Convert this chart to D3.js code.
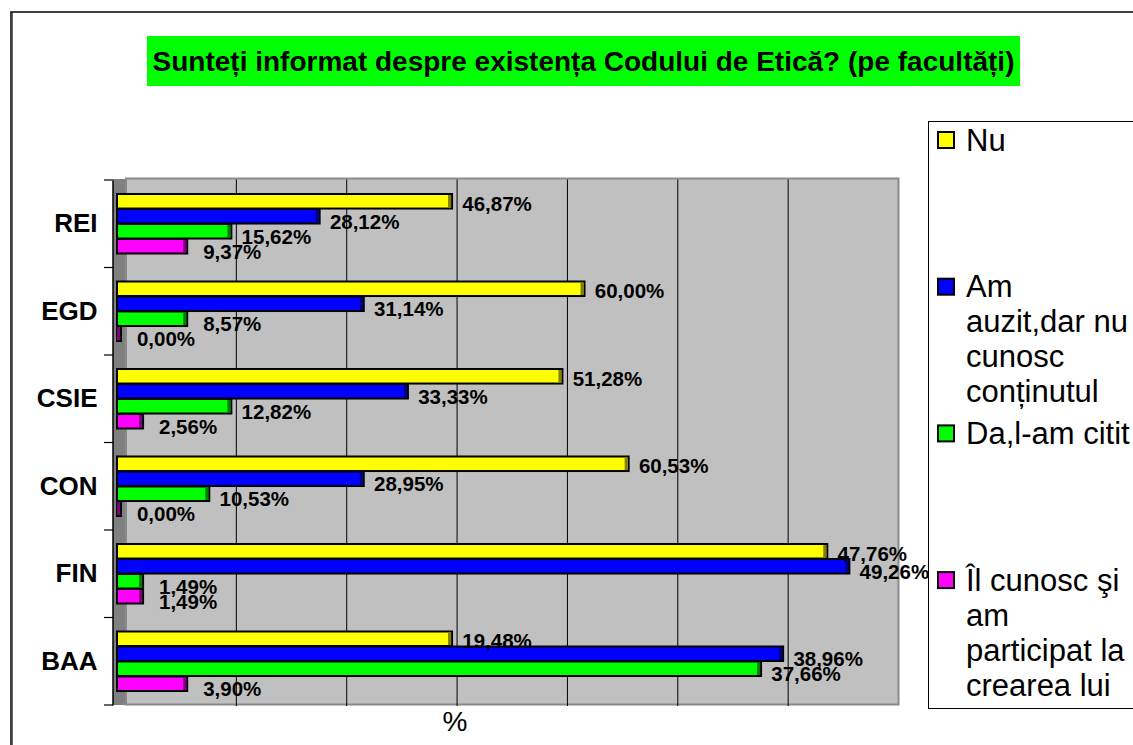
<!DOCTYPE html>
<html><head><meta charset="utf-8">
<script src="https://cdn.jsdelivr.net/npm/d3@7"></script>
<style>
html,body{margin:0;padding:0;background:#fff;overflow:hidden;}
svg{display:block;font-family:"Liberation Sans",Arial,sans-serif;}
</style></head>
<body>
<svg id="chart" width="1133" height="745"></svg>
<script>
// ---- data ----
const title = "Sunteți informat despre existența Codului de Etică? (pe facultăți)";
const categories = ["REI", "EGD", "CSIE", "CON", "FIN", "BAA"];
const seriesNames = ["Nu", "Am auzit,dar nu cunosc conținutul", "Da,l-am citit", "Îl cunosc şi am participat la crearea lui"];
const legendLines = [["Nu"], ["Am", "auzit,dar nu", "cunosc", "conținutul"], ["Da,l-am citit"], ["Îl cunosc şi", "am", "participat la", "crearea lui"]];
// respondent counts (bar lengths)
const nuCounts   = [15, 21, 20, 23, 32, 15];
const amCounts   = [9, 11, 13, 11, 33, 30];
const daCounts   = [5, 3, 5, 4, 1, 29];
const ilCounts   = [3, 0, 1, 0, 1, 3];
// percentage labels
const nuLabels = ["46,87%", "60,00%", "51,28%", "60,53%", "47,76%", "19,48%"];
const amLabels = ["28,12%", "31,14%", "33,33%", "28,95%", "49,26%", "38,96%"];
const daLabels = ["15,62%", "8,57%", "12,82%", "10,53%", "1,49%", "37,66%"];
const ilLabels = ["9,37%", "0,00%", "2,56%", "0,00%", "1,49%", "3,90%"];
const axisMax = 35;
const gridTicks = [5, 10, 15, 20, 25, 30];
const xTitle = "%";

const colors = ["#ffff00", "#0000ff", "#00ff00", "#ff00ff"];
const sideColors = ["#808000", "#000080", "#008000", "#800080"];

const counts = [nuCounts, amCounts, daCounts, ilCounts];
const labels = [nuLabels, amLabels, daLabels, ilLabels];

const svg = d3.select("#chart");

// outer chart border
svg.append("rect").attr("x", 11).attr("y", 12).attr("width", 1200).attr("height", 800)
  .attr("fill", "#fff").attr("stroke", "#000").attr("stroke-width", 1.5);
svg.append("line").attr("x1", 12.5).attr("x2", 12.5).attr("y1", 13).attr("y2", 745)
  .attr("stroke", "#666").attr("stroke-width", 1);

// title
svg.append("rect").attr("x", 147).attr("y", 36).attr("width", 873).attr("height", 50).attr("fill", "#00ff00");
svg.append("text").attr("x", 583.5).attr("y", 61).attr("text-anchor", "middle")
  .attr("dominant-baseline", "central").attr("font-weight", "bold").attr("font-size", 28)
  .text(title);

// scales
const depth = 9;
const x = d3.scaleLinear().domain([0, axisMax]).range([117, 889.5]);
const y = d3.scaleBand().domain(categories).range([180, 705]);
const ys = d3.scaleBand().domain(d3.range(4)).range([14, 73.5]).paddingInner(0.03);

// side wall
svg.append("rect").attr("x", 113).attr("y", 179).attr("width", x(0) + depth - 113).attr("height", 526)
  .attr("fill", "#808080");
// back wall
svg.append("rect").attr("x", x(0) + depth).attr("y", 178.5).attr("width", x(axisMax) - x(0)).attr("height", 526)
  .attr("fill", "#c0c0c0").attr("stroke", "#8a8a8a").attr("stroke-width", 2);
// gridlines
svg.append("g").selectAll("line").data(gridTicks).join("line")
  .attr("x1", d => x(d) + depth).attr("x2", d => x(d) + depth)
  .attr("y1", 179.5).attr("y2", 706)
  .attr("stroke", "#000").attr("stroke-width", 1);

// left axis
const yAxis = d3.axisLeft(y).tickSize(0).tickPadding(15).tickFormat(d => d);
const gy = svg.append("g").attr("transform", "translate(112.5,0)").call(yAxis);
gy.select(".domain").attr("stroke", "#000").attr("stroke-width", 1.5);
gy.selectAll("text").attr("font-size", 26).attr("font-weight", "bold").attr("fill", "#000")
  .attr("font-family", "Liberation Sans, Arial, sans-serif");
// band boundary ticks
const bounds = categories.map(c => y(c)).concat([y.range()[1]]);
svg.append("g").selectAll("line").data(bounds).join("line")
  .attr("x1", 104).attr("x2", 113).attr("y1", d => d).attr("y2", d => d)
  .attr("stroke", "#000").attr("stroke-width", 1.2);

// bars
const barData = [];
categories.forEach((c, ci) => {
  counts.forEach((arr, si) => {
    barData.push({cat: c, s: si, v: arr[ci], label: labels[si][ci]});
  });
});
const side = 4;
const gb = svg.append("g");
gb.selectAll("rect.front").data(barData).join("rect").attr("class", "front")
  .attr("x", x(0)).attr("y", d => y(d.cat) + ys(d.s))
  .attr("width", d => x(d.v) - x(0) + side).attr("height", ys.bandwidth())
  .attr("fill", d => colors[d.s]).attr("stroke", "#000").attr("stroke-width", 2);
gb.selectAll("rect.side").data(barData).join("rect").attr("class", "side")
  .attr("x", d => x(d.v)).attr("y", d => y(d.cat) + ys(d.s) + 1)
  .attr("width", side - 1).attr("height", ys.bandwidth() - 2)
  .attr("fill", d => sideColors[d.s]);

// value labels
gb.selectAll("text").data(barData).join("text")
  .attr("x", d => x(d.v) + side + 45)
  .attr("y", d => y(d.cat) + ys(d.s) + ys.bandwidth() / 2 + (d.s === 0 ? 2 : 5))
  .attr("text-anchor", "middle").attr("dominant-baseline", "central")
  .attr("font-weight", "bold").attr("font-size", 20.5).attr("fill", "#000")
  .text(d => d.label);

// x-axis title
svg.append("text").attr("x", 455).attr("y", 721).attr("text-anchor", "middle")
  .attr("dominant-baseline", "central").attr("font-size", 28).text(xTitle);

// legend
const lg = svg.append("g");
lg.append("rect").attr("x", 928.5).attr("y", 121.5).attr("width", 300).attr("height", 587)
  .attr("fill", "#fff").attr("stroke", "#000").attr("stroke-width", 1);
const lgY = d3.scaleLinear().domain([0, 1]).range([140, 286.7]);
seriesNames.forEach((name, i) => {
  const cy = lgY(i);
  lg.append("rect").attr("x", 938).attr("y", cy - 8).attr("width", 16).attr("height", 16)
    .attr("fill", colors[i]).attr("stroke", "#000").attr("stroke-width", 2);
  const t = lg.append("text").attr("font-size", 31).attr("fill", "#000");
  legendLines[i].forEach((ln, k) => {
    t.append("tspan").attr("x", 966).attr("y", cy + k * 35).attr("dominant-baseline", "central").text(ln);
  });
});
</script>
</body></html>
